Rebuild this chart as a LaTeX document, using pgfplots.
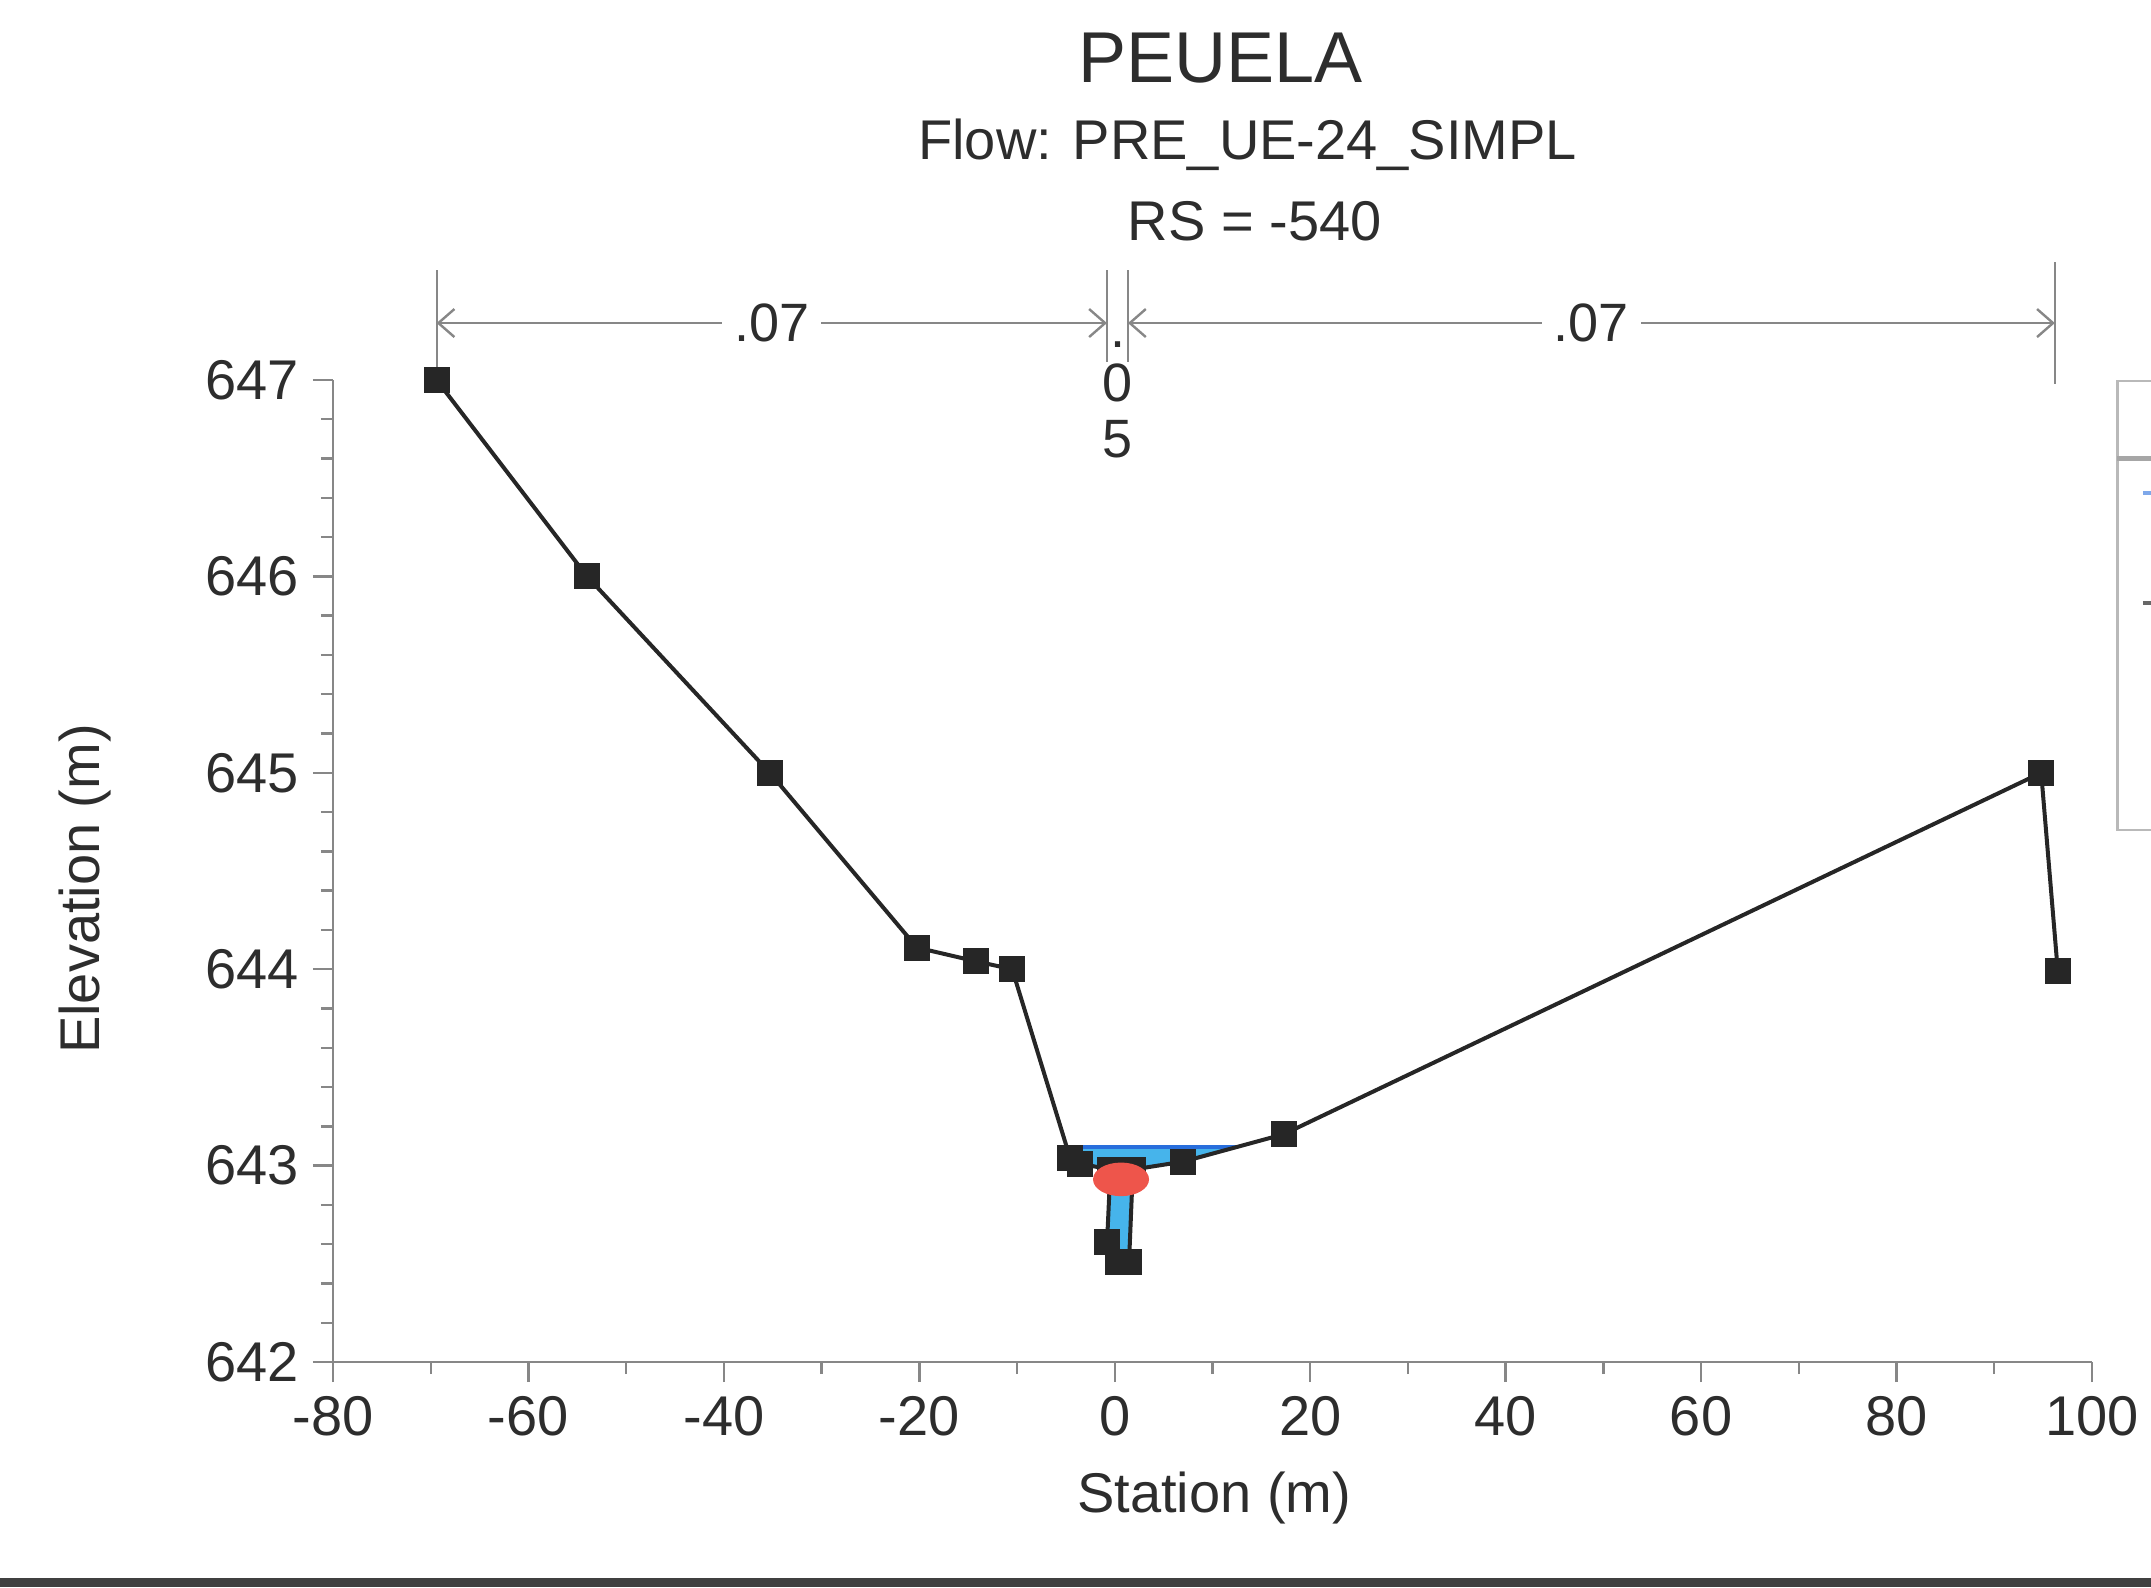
\documentclass[border=0pt]{standalone}
\usepackage{pgfplots}
\pgfplotsset{compat=1.18}
\usepackage{fontspec}
\setmainfont{Liberation Sans}
\usetikzlibrary{arrows.meta}
\definecolor{ground}{RGB}{38,38,38}
\definecolor{water}{RGB}{70,180,235}
\definecolor{wsline}{RGB}{40,110,220}
\definecolor{crit}{RGB}{238,85,75}
\definecolor{axgray}{RGB}{135,135,135}
\definecolor{txt}{RGB}{45,45,45}
\begin{document}
\begin{tikzpicture}
\begin{axis}[
  at={(0pt,0pt)}, anchor=south west,
  scale only axis, width=439.75pt, height=245.5pt,
  xmin=-80, xmax=100, ymin=642, ymax=647,
  axis x line*=bottom, axis y line*=left,
  axis line style={axgray, line width=0.7pt, -},
  xtick={-80,-60,...,100}, ytick={642,643,...,647},
  minor x tick num=1, minor y tick num=4,
  tick align=outside,
  major tick length=5pt, minor tick length=3pt,
  every tick/.style={axgray, line width=0.6pt},
  ticklabel style={font=\fontsize{14}{16}\selectfont, text=txt},
  /pgf/number format/assume math mode=true,
  /pgf/number format/1000 sep={},
  clip=false,
]
% water area
\addplot[fill=water, draw=none] coordinates {
 (-4.94,643.095) (12.5,643.095) (6.98,643.02) (1.85,642.98) (1.46,642.51)
 (0.33,642.51) (-0.79,642.61) (-0.45,642.98) (-3.56,643.01) (-4.58,643.04)} -- cycle;
% water surface
\addplot[wsline, line width=0.8pt] coordinates {(-4.94,643.095) (12.5,643.095)};
% ground
\addplot[ground, line width=1pt, mark=square*, mark size=2.75pt,
  mark options={solid, fill=ground}] coordinates {
 (-69.4,647.0) (-54.0,646.0) (-35.3,645.0) (-20.24,644.11) (-14.2,644.04)
 (-10.5,644.0) (-4.58,643.04) (-3.56,643.01) (-0.45,642.98) (-0.79,642.61)
 (0.33,642.51) (1.46,642.51) (1.85,642.98) (6.98,643.02) (17.3,643.16)
 (94.8,645.0) (96.5,643.99)};
% critical depth marker
\addplot[only marks, mark=*, mark size=4pt,
  mark options={draw=crit, fill=crit, xscale=1.7}] coordinates {(0.64,642.93)};

% Manning's n annotation
\draw[axgray, line width=0.5pt] (axis cs:-69.4,647.56) -- (axis cs:-69.4,647.05);
\draw[axgray, line width=0.5pt] (axis cs:-0.8,647.56) -- (axis cs:-0.8,647.09);
\draw[axgray, line width=0.5pt] (axis cs:1.35,647.56) -- (axis cs:1.35,647.09);
\draw[axgray, line width=0.5pt] (axis cs:96.2,647.6) -- (axis cs:96.2,646.98);
\draw[axgray, line width=0.6pt, {Straight Barb[length=4pt,width=7pt]}-{Straight Barb[length=4pt,width=7pt]}]
  (axis cs:-69.4,647.29) -- node[fill=white, text=txt, inner sep=3pt, font=\fontsize{13.5}{15}\selectfont] {.07} (axis cs:-0.8,647.29);
\draw[axgray, line width=0.6pt, {Straight Barb[length=4pt,width=7pt]}-{Straight Barb[length=4pt,width=7pt]}]
  (axis cs:1.35,647.29) -- node[fill=white, text=txt, inner sep=3pt, font=\fontsize{13.5}{15}\selectfont] {.07} (axis cs:96.2,647.29);
\node[text=txt, font=\fontsize{13.5}{15}\selectfont, inner sep=0pt] at (axis cs:0.3,647.18) {.};
\node[text=txt, font=\fontsize{13.5}{15}\selectfont] at (axis cs:0.33,646.985) {0};
\node[text=txt, font=\fontsize{13.5}{15}\selectfont] at (axis cs:0.33,646.70) {5};

% partially visible legend box
\draw[gray!55, line width=0.6pt] (axis cs:112,646.995) -- (axis cs:102.6,646.995) -- (axis cs:102.6,644.71) -- (axis cs:112,644.71);
\draw[gray!70, line width=1.1pt] (axis cs:102.6,646.60) -- (axis cs:112,646.60);
\draw[wsline!60, line width=0.8pt] (axis cs:105.2,646.425) -- (axis cs:112,646.425);
\draw[ground!70, line width=0.9pt] (axis cs:105.2,645.865) -- (axis cs:112,645.865);

% titles and labels
\node[text=txt, font=\fontsize{18}{20}\selectfont] at (rel axis cs:0.5048,1.328) {PEUELA};
\node[text=txt, font=\fontsize{14}{16}\selectfont] at (rel axis cs:0.520,1.240) {Flow: PRE\_UE-24\_SIMPL};
\node[text=txt, font=\fontsize{14}{16}\selectfont] at (rel axis cs:0.524,1.162) {RS = -540};
\node[text=txt, font=\fontsize{14}{16}\selectfont] at (rel axis cs:0.5009,-0.1385) {Station (m)};
\node[text=txt, font=\fontsize{14}{16}\selectfont, rotate=90] at (rel axis cs:-0.141,0.4817) {Elevation (m)};
\end{axis}
\fill[black!75] (-83.25pt,-56.25pt) rectangle (454.5pt,-54pt);
\pgfresetboundingbox
\path (-83.25pt,-56.25pt) rectangle (454.5pt,340.5pt);
\end{tikzpicture}
\end{document}
